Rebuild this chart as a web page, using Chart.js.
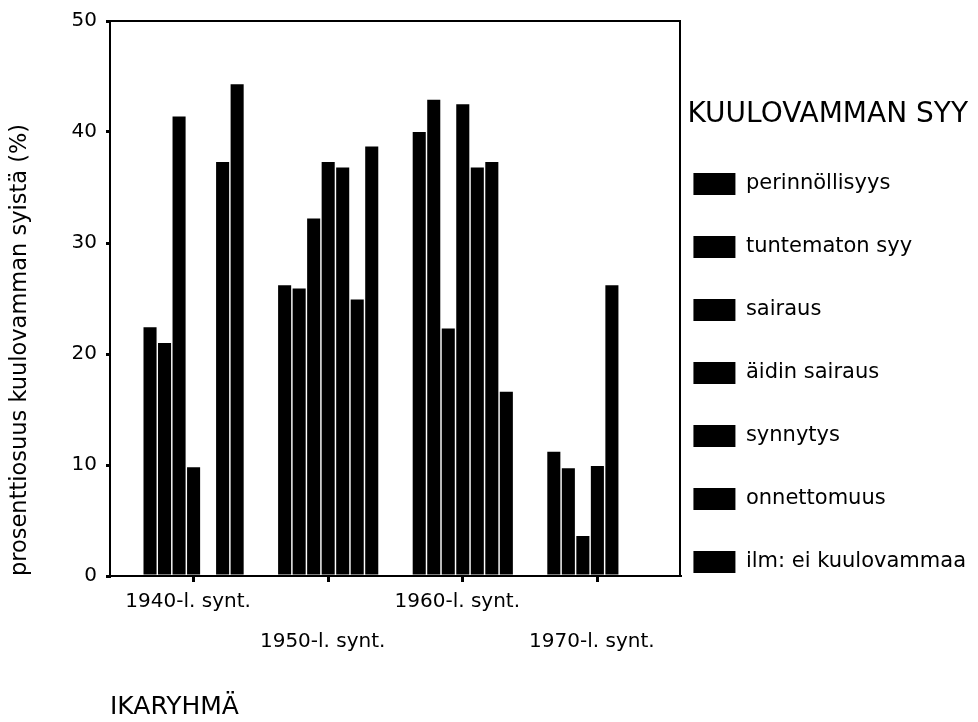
<!DOCTYPE html>
<html lang="fi">
<head>
    <meta charset="UTF-8">
    <title>Kuulovamman syyt ikäryhmittäin</title>
    <script src="https://cdn.jsdelivr.net/npm/chart.js"></script>
    <style>
        * { margin: 0; padding: 0; box-sizing: border-box; }
        body { background: #fff; }
        .chart-box { position: relative; width: 978px; height: 722px; }
    </style>
</head>
<body>
    <div class="chart-box">
        <canvas id="syyChart"></canvas>
    </div>

    <script>
        // Ikäryhmät (x-akseli)
        const ikaryhmat = ['1940-l. synt.', '1950-l. synt.', '1960-l. synt.', '1970-l. synt.'];

        // Kuulovamman syyt, prosenttia ikäryhmittäin
        const perinnollisyys = [22.4, 26.2, 40.0, 11.2];
        const tuntematon     = [21.0, 25.9, 42.9, 9.7];
        const sairaus        = [41.4, 32.2, 22.3, 3.6];
        const aidinSairaus   = [9.8, 37.3, 42.5, 9.9];
        const synnytys       = [0, 36.8, 36.8, 26.2];
        const onnettomuus    = [37.3, 24.9, 37.3, 0];
        const eiKuulovammaa  = [44.3, 38.7, 16.6, 0];

        const syyt = ['perinnöllisyys', 'tuntematon syy', 'sairaus', 'äidin sairaus',
                      'synnytys', 'onnettomuus', 'ilm: ei kuulovammaa'];
        const sarjat = [perinnollisyys, tuntematon, sairaus, aidinSairaus,
                        synnytys, onnettomuus, eiKuulovammaa];

        const yTicks = [0, 10, 20, 30, 40, 50];

        Chart.defaults.font.family = "'DejaVu Sans', sans-serif";
        Chart.defaults.color = '#000';

        const datasets = sarjat.map((arvot, i) => ({
            label: syyt[i],
            data: arvot.map((v, j) => ({ x: j, y: v })),
            backgroundColor: '#000',
            borderWidth: 0,
            categoryPercentage: 0.755,
            barPercentage: 0.9
        }));

        const oletusLabels = Chart.defaults.plugins.legend.labels.generateLabels;

        new Chart(document.getElementById('syyChart'), {
            type: 'bar',
            data: { datasets: datasets },
            options: {
                responsive: true,
                maintainAspectRatio: false,
                animation: false,
                layout: { padding: { top: 20, right: 2, bottom: 0, left: 0 } },
                scales: {
                    x: {
                        type: 'linear',
                        position: 'bottom',
                        min: -0.621,
                        max: 3.617,
                        offset: false,
                        afterBuildTicks: (s) => { s.ticks = ikaryhmat.map((c, i) => ({ value: i })); },
                        afterFit: (s) => { s.height = 146; },
                        ticks: {
                            autoSkip: false,
                            maxRotation: 0,
                            padding: 0,
                            labelOffset: -5.5,
                            font: { size: 20, lineHeight: '40px' },
                            callback: (v) => {
                                const i = Math.round(v);
                                return i % 2 === 0 ? [ikaryhmat[i], ''] : ['', ikaryhmat[i]];
                            }
                        },
                        grid: { drawOnChartArea: false, offset: false, tickLength: 6, lineWidth: 3, color: '#000' },
                        border: { display: true, color: '#000', width: 2 },
                        title: {
                            display: true,
                            text: 'IKARYHMÄ',
                            align: 'start',
                            font: { size: 25 },
                            padding: { top: 0, bottom: 0 }
                        }
                    },
                    xTop: {
                        type: 'linear',
                        position: 'top',
                        ticks: { display: false },
                        grid: { drawOnChartArea: false, drawTicks: false },
                        border: { display: true, color: '#000', width: 2 },
                        afterFit: (s) => { s.height = 0; }
                    },
                    y: {
                        min: 0,
                        max: 50,
                        afterBuildTicks: (s) => { s.ticks = yTicks.map(v => ({ value: v })); },
                        afterFit: (s) => { s.width = 110; },
                        ticks: { padding: 9, font: { size: 20 } },
                        grid: { drawOnChartArea: false, tickLength: 4, lineWidth: 3, color: '#000' },
                        border: { display: true, color: '#000', width: 2 },
                        title: {
                            display: true,
                            text: 'prosenttiosuus kuulovamman syistä (%)',
                            align: 'start',
                            font: { size: 22.5 },
                            padding: { top: 7, bottom: 0 }
                        }
                    },
                    yRight: {
                        type: 'linear',
                        position: 'right',
                        ticks: { display: false },
                        grid: { drawOnChartArea: false, drawTicks: false },
                        border: { display: true, color: '#000', width: 2 },
                        afterFit: (s) => { s.width = 7; }
                    }
                },
                plugins: {
                    tooltip: { enabled: false },
                    legend: {
                        position: 'right',
                        align: 'start',
                        maxWidth: 291,
                        title: {
                            display: true,
                            text: 'KUULOVAMMAN SYY',
                            position: 'start',
                            font: { size: 28 },
                            padding: { top: 81, bottom: 32.4 }
                        },
                        labels: {
                            boxWidth: 42,
                            boxHeight: 22,
                            padding: 6,
                            font: { size: 21, lineHeight: '57px' },
                            // tekstit taulukkona, jotta rivikorkeus määrää välit
                            generateLabels: (chart) => oletusLabels(chart).map(it => {
                                it.text = [it.text];
                                return it;
                            })
                        }
                    }
                }
            }
        });
    </script>
</body>
</html>
